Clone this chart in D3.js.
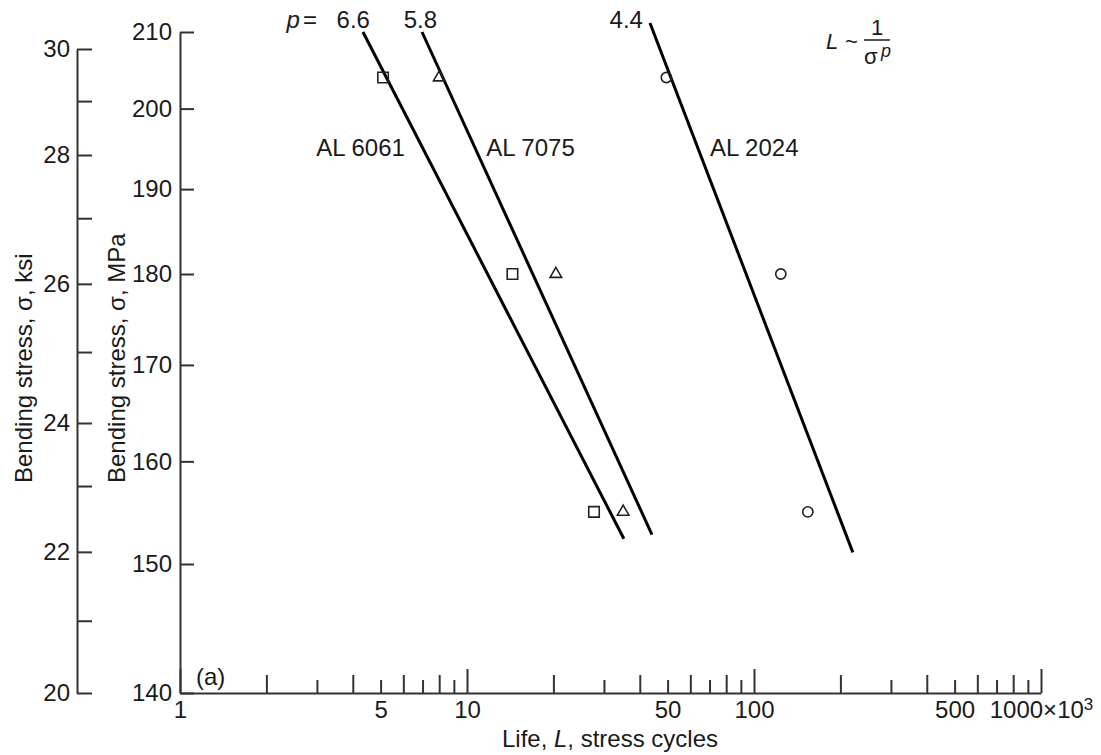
<!DOCTYPE html>
<html>
<head>
<meta charset="utf-8">
<script src="https://cdn.jsdelivr.net/npm/d3@7"></script>
<style>
  body { margin: 0; background: #fff; }
  text { font-family: 'Liberation Sans', Arial, sans-serif; fill: #1a1a1a; }
</style>
</head>
<body>
<div id="canvas"></div>
<script>
const alloys = ['AL 6061', 'AL 7075', 'AL 2024'];
const exponents = ['6.6', '5.8', '4.4'];

// stress levels of the tests, MPa
const stressLevels = [204, 180, 155];
// measured life, 10^3 cycles
const life6061 = [5.1, 14.4, 27.7];
const life7075 = [8.0, 20.4, 35.0];
const life2024 = [49.5, 124, 154];

// fitted lines, [life, stress] at both ends
const fit6061 = [[4.34, 210], [35.2, 152.4]];
const fit7075 = [[6.97, 210], [44.1, 152.8]];
const fit2024 = [[43.4, 211.2], [221, 151.1]];

const mpaTicks = [140, 150, 160, 170, 180, 190, 200, 210];
const ksiTicks = [20, 21, 22, 23, 24, 25, 26, 27, 28, 29, 30];
const ksiLabels = [20, 22, 24, 26, 28, 30];
const lifeLabels = [1, 5, 10, 50, 100, 500, 1000];

const width = 1101;
const height = 755;
const fontSize = 24;

const svg = d3
  .select('#canvas')
  .append('svg')
  .attr('width', width)
  .attr('height', height);

const x = d3.scaleLog().domain([1, 1000]).range([180, 1041]);
// the printed stress scales are not quite logarithmic, so pin them at a few ticks
const y = d3.scaleLog().domain([140, 150, 180, 210]).range([693, 564, 274, 32]);
const yKsi = d3.scaleLog().domain([20, 24, 28, 30]).range([693, 423, 155, 49]);

function styleAxis(g) {
  g.attr('font-size', null).attr('font-family', null);
  g.select('.domain').attr('stroke', '#333').attr('stroke-width', 2);
  g.selectAll('.tick line').attr('stroke', '#333').attr('stroke-width', 2);
  g.selectAll('.tick text').attr('font-size', fontSize).attr('fill', '#1a1a1a');
}

// x axis, ticks point up into the plot
const xTicks = [];
[1, 10, 100].forEach(d => {
  for (let k = 1; k <= 9; k++) xTicks.push(k * d);
});
xTicks.push(1000);

const tickLen = d => {
  const k = Math.round(d / Math.pow(10, Math.floor(Math.log10(d) + 1e-9)));
  if (k === 1) return 24;
  return k % 2 === 0 ? 18 : 13;
};

const xAxisGroup = svg
  .append('g')
  .attr('transform', `translate(0, ${y(140)})`)
  .call(
    d3.axisBottom(x)
      .tickValues(xTicks)
      .tickSizeOuter(0)
      .tickSizeInner(-24)
      .tickPadding(8)
      .tickFormat(d => (lifeLabels.includes(d) ? (d === 1000 ? '1000×10' : d) : ''))
  )
  .call(styleAxis);

xAxisGroup.selectAll('.tick line').attr('y2', d => -tickLen(d));
xAxisGroup
  .selectAll('.tick text')
  .filter(d => d === 1000)
  .append('tspan')
  .attr('font-size', 17)
  .attr('dy', '-0.45em')
  .text('3');

// MPa axis
svg
  .append('g')
  .attr('transform', `translate(${x(1)}, 0)`)
  .call(
    d3.axisLeft(y)
      .tickValues(mpaTicks)
      .tickSizeOuter(0)
      .tickSizeInner(-14)
      .tickPadding(8)
      .tickFormat(d3.format('d'))
  )
  .call(styleAxis);

// ksi axis
svg
  .append('g')
  .attr('transform', 'translate(77, 0)')
  .call(
    d3.axisLeft(yKsi)
      .tickValues(ksiTicks)
      .tickSizeOuter(0)
      .tickSizeInner(-15)
      .tickPadding(7)
      .tickFormat(d => (ksiLabels.includes(d) ? d : ''))
  )
  .call(styleAxis);

// axis titles
svg
  .append('text')
  .attr('transform', 'translate(32, 483) rotate(-90)')
  .attr('font-size', fontSize)
  .text('Bending stress, σ, ksi');

svg
  .append('text')
  .attr('transform', 'translate(125, 483) rotate(-90)')
  .attr('font-size', fontSize)
  .text('Bending stress, σ, MPa');

const xTitle = svg
  .append('text')
  .attr('x', 610)
  .attr('y', 747)
  .attr('text-anchor', 'middle')
  .attr('font-size', fontSize);
xTitle.append('tspan').text('Life, ');
xTitle.append('tspan').attr('font-style', 'italic').text('L');
xTitle.append('tspan').text(', stress cycles');

svg
  .append('text')
  .attr('x', 196)
  .attr('y', 685)
  .attr('font-size', fontSize)
  .text('(a)');
// <-- axes end -->

const series = [
  { name: alloys[0], p: exponents[0], life: life6061, fit: fit6061, symbol: d3.symbolSquare, size: 110 },
  { name: alloys[1], p: exponents[1], life: life7075, fit: fit7075, symbol: d3.symbolTriangle, size: 58 },
  { name: alloys[2], p: exponents[2], life: life2024, fit: fit2024, symbol: d3.symbolCircle, size: 82 },
];

// label nudges in px: [p label end dx, name dx, name anchor]
const nudge = [
  [7, -18, 'end'],
  [15, 11, 'start'],
  [-7, 12, 'start'],
];

const lineGenerator = d3
  .line()
  .x(d => x(d[0]))
  .y(d => y(d[1]));

const plot = svg.append('g');

series.forEach((s, i) => {
  plot
    .append('path')
    .attr('d', lineGenerator(s.fit))
    .attr('fill', 'none')
    .attr('stroke', '#000')
    .attr('stroke-width', 3);

  plot
    .selectAll(null)
    .data(s.life)
    .enter()
    .append('path')
    .attr('d', d3.symbol(s.symbol, s.size))
    .attr('transform', (d, j) => `translate(${x(d)}, ${y(stressLevels[j])})`)
    .attr('fill', 'none')
    .attr('stroke', '#222')
    .attr('stroke-width', 1.6);

  // point on the fitted line at a given stress
  const top = [x(s.fit[0][0]), y(s.fit[0][1])];
  const bot = [x(s.fit[1][0]), y(s.fit[1][1])];
  const yLab = y(195);
  const t = (yLab - top[1]) / (bot[1] - top[1]);
  const xLab = top[0] + t * (bot[0] - top[0]);

  plot
    .append('text')
    .attr('x', xLab + nudge[i][1])
    .attr('y', yLab + 8)
    .attr('text-anchor', nudge[i][2])
    .attr('font-size', fontSize)
    .text(s.name);

  const pX = x(s.fit[0][0]) + nudge[i][0];
  plot
    .append('text')
    .attr('x', pX)
    .attr('y', 28)
    .attr('text-anchor', 'end')
    .attr('font-size', fontSize)
    .text(s.p);

  if (i === 0) {
    const pEq = plot
      .append('text')
      .attr('x', pX - 53)
      .attr('y', 28)
      .attr('text-anchor', 'end')
      .attr('font-size', fontSize);
    pEq.append('tspan').attr('font-style', 'italic').text('p');
    pEq.append('tspan').attr('dx', 3).text('=');
  }
});
// <-- lines and points end -->

const formula = svg.append('g').attr('font-size', 22);
formula.append('text').attr('x', 826).attr('y', 49).attr('font-style', 'italic').text('L');
formula.append('text').attr('x', 845).attr('y', 49).text('~');
formula.append('text').attr('x', 877).attr('y', 35).attr('text-anchor', 'middle').text('1');
formula
  .append('line')
  .attr('x1', 864)
  .attr('x2', 890)
  .attr('y1', 40)
  .attr('y2', 40)
  .attr('stroke', '#1a1a1a')
  .attr('stroke-width', 1.5);
formula.append('text').attr('x', 864).attr('y', 64).text('σ');
formula
  .append('text')
  .attr('x', 881)
  .attr('y', 57)
  .attr('font-size', 18)
  .attr('font-style', 'italic')
  .text('p');
</script>
</body>
</html>
